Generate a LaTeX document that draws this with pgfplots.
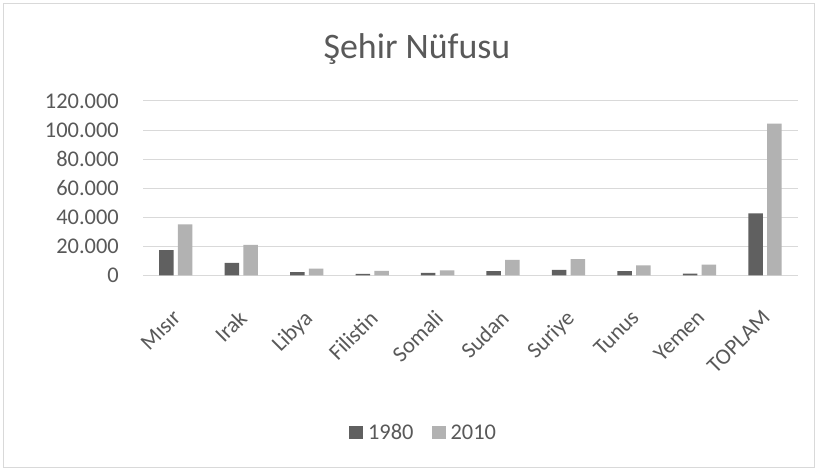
\documentclass[border=0pt]{standalone}
\usepackage{pgfplots}
\pgfplotsset{compat=1.18}
\usepackage{fontspec}
\setmainfont{Carlito}
\definecolor{txt}{HTML}{595959}
\definecolor{gridc}{HTML}{D9D9D9}
\definecolor{c80}{HTML}{606060}
\definecolor{c10}{HTML}{B2B2B2}
\begin{document}
\begin{tikzpicture}[x=1bp,y=1bp]
\useasboundingbox (0,0) rectangle (818,471);
\fill[white] (0,0) rectangle (818,471);
\draw[gridc, line width=1bp] (3.5,3.5) rectangle (814.5,467.5);
\node[anchor=base, text=txt, font=\fontsize{36}{40}\selectfont, inner sep=0pt] at (417,412.7) {Şehir Nüfusu};
\begin{axis}[
  at={(143bp,195.7bp)}, anchor=south west,
  scale only axis, width=654.7bp, height=174.3bp,
  ymin=0, ymax=120000, xmin=-0.5, xmax=9.5,
  ybar=4.3bp, bar width=14.5bp,
  xtick={0,...,9},
  xticklabels={Mısır,Irak,Libya,Filistin,Somali,Sudan,Suriye,Tunus,Yemen,TOPLAM},
  ytick={0,20000,...,120000},
  scaled y ticks=false,
  yticklabel style={/pgf/number format/fixed, /pgf/number format/precision=0, /pgf/number format/1000 sep={.}, /pgf/number format/assume math mode=true},
  ymajorgrids, grid style={gridc, line width=1bp},
  axis line style={draw=none}, tick style={draw=none},
  ticklabel style={font=\fontsize{22.5}{24}\selectfont, text=txt},
  yticklabel style={anchor=east, inner sep=0pt, xshift=-24bp},
  xticklabel style={inner sep=0pt, xshift=-4bp, yshift=-29bp, rotate=45, anchor=north east},
  every axis plot post/.append style={legend image code/.code={\fill[##1] (0bp,-6.5bp) rectangle (14bp,6.5bp); \path (17bp,0bp);}},
  legend style={at={(0.4285,-0.902)}, anchor=center, draw=none, fill=none,
    legend columns=2, font=\fontsize{22.5}{24}\selectfont, text=txt,
    /tikz/every even column/.append style={column sep=16bp}},
  legend cell align=left,
]
\addplot[fill=c80, draw=none] coordinates {(0,17400) (1,8500) (2,2100) (3,900) (4,1600) (5,2800) (6,3700) (7,2800) (8,1100) (9,42700)};
\addplot[fill=c10, draw=none] coordinates {(0,35100) (1,20900) (2,4600) (3,3000) (4,3400) (5,10700) (6,11200) (7,6900) (8,7300) (9,104400)};
\legend{1980,2010}
\end{axis}
\end{tikzpicture}
\end{document}
